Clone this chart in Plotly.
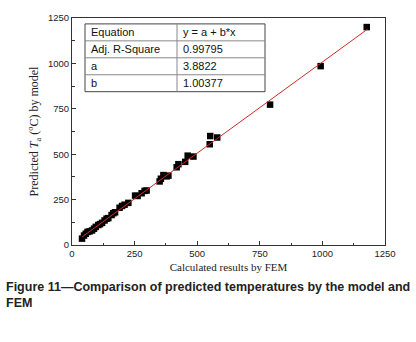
import plotly.graph_objects as go

# Data
fem_x = [40, 48, 55, 62, 70, 80, 88, 95, 105, 112, 120, 130, 138, 145, 158, 165, 172,
         190, 200, 210, 225, 252, 262, 278, 290, 298, 350, 355, 365, 378, 385,
         418, 425, 452, 462, 485, 550, 552, 580, 791, 993, 1177]
model_y = [35, 52, 62, 72, 75, 80, 90, 100, 110, 115, 122, 135, 145, 148, 165, 175, 180,
           205, 215, 222, 232, 272, 270, 285, 298, 300, 350, 365, 385, 378, 382,
           428, 445, 458, 492, 487, 555, 600, 592, 773, 985, 1200]

fit_a = 3.8822
fit_b = 1.00377
fit_x = [40, 1180]
fit_y = [fit_a + fit_b * v for v in fit_x]

table_rows = [["Equation", "y = a + b*x"],
              ["Adj. R-Square", "0.99795"],
              ["a", "3.8822"],
              ["b", "1.00377"]]

x_ticks = [0, 250, 500, 750, 1000, 1250]
y_ticks = [0, 250, 500, 750, 1000, 1250]

W, H = 416, 342
L, R, T, B = 72, 385, 14, 245


def px(xp):
    return (xp - L) / (R - L)


def py(yp):
    return (B - yp) / (B - T)


fig = go.Figure()
fig.add_trace(go.Scatter(x=fem_x, y=model_y, mode="markers",
                         marker=dict(symbol="square", size=6.5, color="black",
                                     line=dict(width=0)),
                         showlegend=False))
fig.add_trace(go.Scatter(x=fit_x, y=fit_y, mode="lines",
                         line=dict(color="#d62728", width=1),
                         showlegend=False))

axis_common = dict(range=[0, 1250], showgrid=False, zeroline=False,
                   showline=True, linecolor="#333", linewidth=1, mirror=True,
                   ticks="inside", ticklen=4, tickcolor="#333",
                   tickfont=dict(family="Liberation Sans, Arial", size=9.5, color="#222"),
                   minor=dict(ticks="inside", ticklen=2.5, dtick=125, tickcolor="#333"))

fig.update_xaxes(**axis_common, tickvals=x_ticks,
                 title=dict(text="Calculated results by FEM", standoff=4,
                            font=dict(family="Liberation Serif, Times New Roman", size=11, color="#222")))
fig.update_yaxes(**axis_common, tickvals=y_ticks,
                 title=dict(text="Predicted <i>T</i><sub>a</sub> (<sup>o</sup>C) by model", standoff=6,
                            font=dict(family="Liberation Serif, Times New Roman", size=12, color="#222")))

# table box
tl, tr, tc = 85, 265, 177
tt, tb = 20, 89
rh = (tb - tt) / len(table_rows)
shapes = [dict(type="rect", xref="paper", yref="paper", x0=px(tl), x1=px(tr), y0=py(tb), y1=py(tt),
               line=dict(color="#444", width=1), fillcolor="white", layer="above")]
shapes.append(dict(type="line", xref="paper", yref="paper", x0=px(tc), x1=px(tc), y0=py(tb), y1=py(tt),
                   line=dict(color="#888", width=1), layer="above"))
for i in range(1, len(table_rows)):
    yy = tt + i * rh
    shapes.append(dict(type="line", xref="paper", yref="paper", x0=px(tl), x1=px(tr), y0=py(yy), y1=py(yy),
                       line=dict(color="#888", width=1), layer="above"))

annotations = []
for i, (c1, c2) in enumerate(table_rows):
    yc = tt + (i + 0.5) * rh
    annotations.append(dict(text=c1, xref="paper", yref="paper", x=px(tl + 4), y=py(yc),
                            xanchor="left", yanchor="middle", showarrow=False,
                            font=dict(family="Liberation Sans, Arial", size=11, color="#111")))
    annotations.append(dict(text=c2, xref="paper", yref="paper", x=px(tc + 4), y=py(yc),
                            xanchor="left", yanchor="middle", showarrow=False,
                            font=dict(family="Liberation Sans, Arial", size=11, color="#111")))

annotations.append(dict(text="<b>Figure 11\u2014Comparison of predicted temperatures by the model and<br>FEM</b>",
                        xref="paper", yref="paper", x=px(4), y=py(279), xanchor="left", yanchor="top",
                        align="left", showarrow=False,
                        font=dict(family="Liberation Sans, Arial", size=12.5, color="#222")))

fig.update_layout(width=W, height=H, margin=dict(l=L, r=W - R, t=T, b=H - B),
                  plot_bgcolor="white", paper_bgcolor="white",
                  shapes=shapes, annotations=annotations)

fig.write_html("out.html", config={"displayModeBar": False},
               post_script="document.body.style.margin='0';document.body.style.overflow='hidden';")
